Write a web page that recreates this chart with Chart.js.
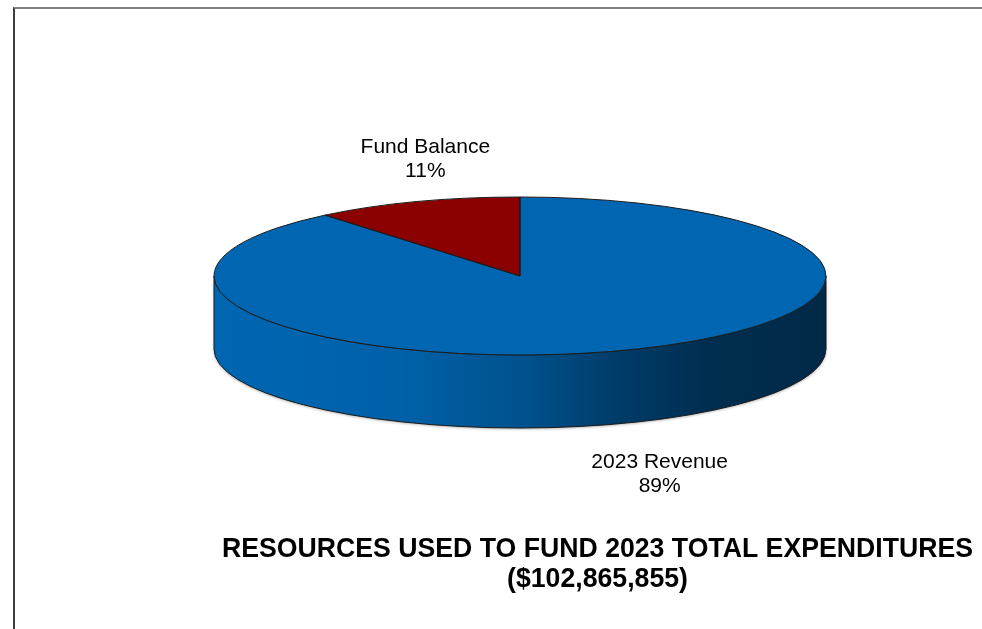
<!DOCTYPE html>
<html>
<head>
<meta charset="utf-8">
<title>Resources Used to Fund 2023 Total Expenditures</title>
<script src="https://cdn.jsdelivr.net/npm/chart.js@4.4.1/dist/chart.umd.min.js"></script>
<style>
    html, body { margin: 0; padding: 0; background: #fff; }
    #frame {
        position: absolute; left: 13px; top: 7px; width: 969px; height: 622px;
        border-top: 2px solid #828282; border-left: 2px solid #3f3f3f;
        box-sizing: border-box;
    }
    #wrap { position: absolute; left: 0; top: 0; width: 982px; height: 629px; }
</style>
</head>
<body>
<div id="frame"></div>
<div id="wrap"><canvas id="resourcesChart" width="982" height="629"></canvas></div>
<script>
const categories = ['2023 Revenue', 'Fund Balance'];
const shares = [89, 11];
const sliceColors = ['#0066b2', '#8b0000'];
const titleLines = ['RESOURCES USED TO FUND 2023 TOTAL EXPENDITURES', '($102,865,855)'];

// darkening along the side wall, left to right
const wallStops = [[0, 1.0], [0.3, 0.95], [0.5, 0.8], [0.65, 0.6], [0.8, 0.45], [1, 0.4]];

function shade(hex, f) {
    const n = parseInt(hex.slice(1), 16);
    const r = Math.round(((n >> 16) & 255) * f);
    const g = Math.round(((n >> 8) & 255) * f);
    const b = Math.round((n & 255) * f);
    return `rgb(${r},${g},${b})`;
}

// parts of an arc that face the viewer (canvas angles 0..PI)
function nearSpans(s, e) {
    const out = [];
    for (let k = -1; k <= 2; k++) {
        const lo = Math.max(s, 2 * Math.PI * k);
        const hi = Math.min(e, 2 * Math.PI * k + Math.PI);
        if (hi > lo) out.push([lo, hi]);
    }
    return out;
}

const pie3d = {
    id: 'pie3d',
    beforeDatasetsDraw(chart, args, opts) {
        const ctx = chart.ctx;
        const arcs = chart.getDatasetMeta(0).data;
        const { cx, cy, rx, ry, depth } = opts;

        arcs.forEach(el => {
            const grad = ctx.createLinearGradient(cx - rx, 0, cx + rx, 0);
            wallStops.forEach(([t, f]) => grad.addColorStop(t, shade(el.options.backgroundColor, f)));
            nearSpans(el.startAngle, el.endAngle).forEach(([a0, a1]) => {
                ctx.save();
                ctx.beginPath();
                ctx.ellipse(cx, cy, rx, ry, 0, a0, a1);
                ctx.ellipse(cx, cy + depth, rx, ry, 0, a1, a0, true);
                ctx.closePath();
                ctx.shadowColor = 'rgba(0,0,0,0.35)';
                ctx.shadowBlur = 3;
                ctx.shadowOffsetY = 1;
                ctx.fillStyle = grad;
                ctx.fill();
                ctx.shadowColor = 'transparent';
                ctx.strokeStyle = '#1b1b1b';
                ctx.lineWidth = 1;
                ctx.stroke();
                ctx.restore();
            });
        });

        // squash the library's circle onto the top ellipse
        const a = arcs[0];
        ctx.save();
        ctx.translate(cx, cy);
        ctx.scale(rx / a.outerRadius, ry / a.outerRadius);
        ctx.translate(-a.x, -a.y);
    },
    afterDatasetsDraw(chart, args, opts) {
        const ctx = chart.ctx;
        ctx.restore();
        const { cx, cy, rx, ry } = opts;
        chart.getDatasetMeta(0).data.forEach(el => {
            ctx.beginPath();
            ctx.moveTo(cx, cy);
            ctx.ellipse(cx, cy, rx, ry, 0, el.startAngle, el.endAngle);
            ctx.closePath();
            ctx.strokeStyle = '#1b1b1b';
            ctx.lineWidth = 1;
            ctx.stroke();
        });
    },
    afterDraw(chart, args, opts) {
        const ctx = chart.ctx;
        const { cx, cy, rx, ry, depth, labelShift } = opts;
        ctx.save();
        ctx.fillStyle = '#000';
        ctx.textAlign = 'center';
        ctx.textBaseline = 'middle';

        // slice labels: name + share
        ctx.font = '21px "Liberation Sans", Arial, sans-serif';
        chart.getDatasetMeta(0).data.forEach((el, i) => {
            const mid = (el.startAngle + el.endAngle) / 2;
            const s = Math.sin(mid);
            const x = cx + rx * Math.cos(mid) + labelShift[i][0];
            const y = cy + ry * s + (s > 0 ? depth : 0) + labelShift[i][1];
            ctx.fillText(categories[i], x, y - 12);
            ctx.fillText(shares[i] + '%', x, y + 12);
        });

        // caption, squeezed to a condensed look
        const t = opts.caption;
        ctx.font = 'bold 28px "Liberation Sans", Arial, sans-serif';
        const sx = t.width / ctx.measureText(titleLines[0]).width;
        titleLines.forEach((line, i) => {
            ctx.save();
            ctx.translate(t.x, t.y + i * t.lineHeight);
            ctx.scale(sx, 1);
            ctx.fillText(line, 0, 0);
            ctx.restore();
        });
        ctx.restore();
    }
};

new Chart(document.getElementById('resourcesChart'), {
    type: 'pie',
    data: {
        labels: categories,
        datasets: [{
            data: shares,
            backgroundColor: sliceColors,
            borderWidth: 0,
            clip: false
        }]
    },
    options: {
        responsive: false,
        animation: false,
        events: [],
        plugins: {
            legend: { display: false },
            tooltip: { enabled: false },
            pie3d: {
                cx: 520, cy: 276, rx: 306, ry: 79, depth: 73,
                labelShift: [[36, 51], [9, -42]],
                caption: { x: 597.5, y: 549, lineHeight: 30, width: 751 }
            }
        }
    },
    plugins: [pie3d]
});
</script>
</body>
</html>
